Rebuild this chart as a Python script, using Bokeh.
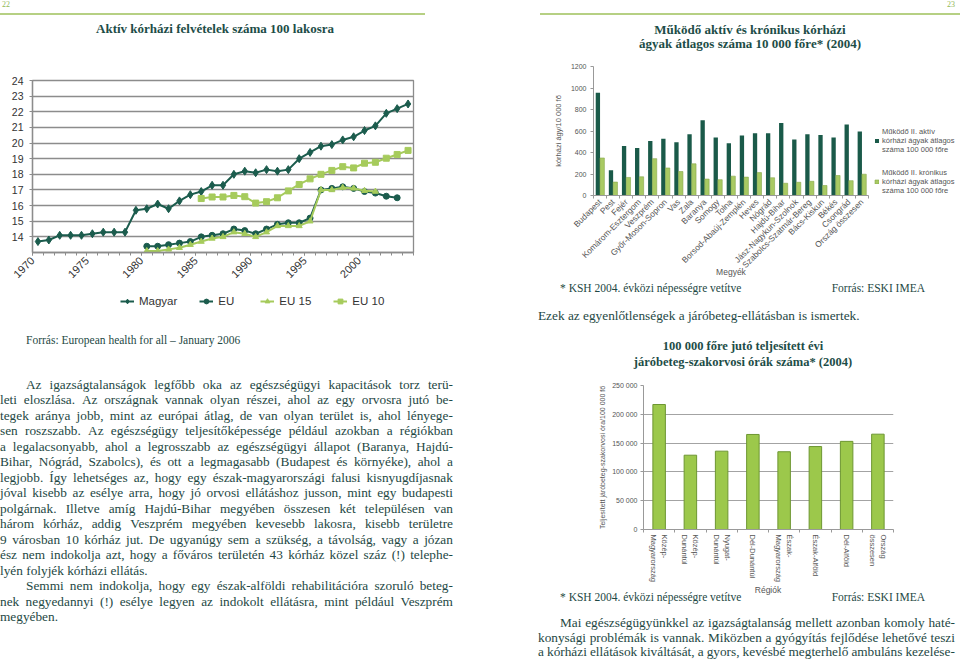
import math
from bokeh.plotting import figure
from bokeh.models import Div, Legend, LegendItem, FixedTicker, Range1d, ColumnDataSource
from bokeh.layouts import row, column
from bokeh.transform import dodge
from bokeh.embed import file_html
from bokeh.resources import INLINE

# ---------------- data ----------------
years = list(range(1970, 2005))
magyar = [13.7, 13.8, 14.1, 14.1, 14.1, 14.2, 14.3, 14.3, 14.3, 15.7, 15.8, 16.1, 15.8, 16.3,
          16.7, 16.9, 17.3, 17.3, 18.0, 18.2, 18.1, 18.3, 18.2, 18.3, 19.0, 19.4, 19.8, 19.9,
          20.2, 20.4, 20.8, 21.1, 21.9, 22.2, 22.5]
eu_years = list(range(1980, 2004))
eu = [13.4, 13.4, 13.5, 13.6, 13.7, 14.0, 14.1, 14.2, 14.5, 14.4, 14.2, 14.5, 14.8, 14.9,
      14.9, 15.2, 17.0, 17.1, 17.2, 17.1, 16.9, 16.8, 16.6, 16.5]
eu15_years = list(range(1980, 2002))
eu15 = [13.1, 13.1, 13.2, 13.3, 13.5, 13.7, 13.9, 14.0, 14.3, 14.2, 14.0, 14.3, 14.7, 14.7,
        14.7, 15.0, 17.0, 17.0, 17.15, 17.1, 16.95, 16.9]
eu10_years = list(range(1985, 2005))
eu10 = [16.45, 16.55, 16.55, 16.65, 16.57, 16.16, 16.25, 16.5, 16.94, 17.35, 17.71, 18.0,
        18.25, 18.49, 18.41, 18.71, 18.77, 19.03, 19.27, 19.53]
year_labels = ["1970", "1975", "1980", "1985", "1990", "1995", "2000"]
felvetel_min, felvetel_max = 13, 24
felvetel_ticks = list(range(14, 25))
series_names = ["Magyar", "EU", "EU 15", "EU 10"]

megyek = ["Budapest", "Pest", "Fejér", "Komárom-Esztergom", "Veszprém", "Győr-Moson-Sopron",
          "Vas", "Zala", "Baranya", "Somogy", "Tolna", "Borsod-Abaúj-Zemplén", "Heves",
          "Nógrád", "Hajdú-Bihar", "Jász-Nagykun-Szolnok", "Szabolcs-Szatmár-Bereg",
          "Bács-Kiskun", "Békés", "Csongrád", "Ország összesen"]
aktiv = [955, 235, 460, 442, 508, 529, 496, 570, 700, 540, 487, 558, 578, 580, 675, 522, 570,
         563, 540, 660, 595]
kronikus = [349, 125, 168, 174, 343, 256, 223, 295, 153, 147, 180, 171, 213, 165, 114, 123,
            132, 93, 186, 138, 198]
agy_ticks = [0, 200, 400, 600, 800, 1000, 1200]
agy_series = ["Működő II. aktív\nkórházi ágyak átlagos\nszáma 100 000 főre",
              "Működő II. krónikus\nkórházi ágyak átlagos\nszáma 100 000 főre"]

regiok = ["Közép-\nMagyarország", "Közép-\nDunántúl", "Nyugat-\nDunántúl", "Dél-Dunántúl",
          "Észak-\nMagyarország", "Észak-Alföld", "Dél-Alföld", "Ország\nösszesen"]
orak = [217000, 129000, 136000, 165000, 135000, 144000, 153000, 165500]
ora_ticks = [0, 50000, 100000, 150000, 200000, 250000]
ora_labels = ["0", "50 000", "100 000", "150 000", "200 000", "250 000"]

# ---------------- styles ----------------
DARK = "#1b5c4d"
LIGHT = "#a6cb5c"
BAR_DARK = "#1a5a49"
BAR_LIGHT = "#a9ca63"
GRAY = "#8c8c8c"
TEXT = "#1e4844"
TITLE = "#1d4d47"
SERIF = "'Liberation Serif', 'DejaVu Serif', serif"
SANS = "Liberation Sans"


def no_align(f):
    try:
        f.frame_align = False
    except Exception:
        pass
    return f


def base_fig(w, h, xr, yr, left, right, top, bottom, free=True):
    f = figure(width=w, height=h, x_range=xr, y_range=yr, output_backend="svg",
               toolbar_location=None, title=None, min_border_left=left,
               min_border_right=right, min_border_top=top, min_border_bottom=bottom,
               margin=0)
    if free:
        no_align(f)
    for ax in (f.xaxis[0], f.yaxis[0]):
        ax.major_label_text_font = SANS
        ax.axis_label_text_font = SANS
        ax.axis_label_text_font_style = "normal"
        ax.major_tick_in = 0
        ax.minor_tick_in = 0
    return f


def legend_fig(w, h):
    f = figure(width=w, height=h, output_backend="svg", toolbar_location=None, title=None,
               x_axis_type=None, y_axis_type=None, min_border=0, margin=0,
               x_range=Range1d(-2, -1), y_range=Range1d(-2, -1))
    f.grid.visible = False
    f.outline_line_color = None
    return f


# ---------------- left line chart ----------------
lc = base_fig(480, 216, Range1d(years[0] - 0.5, years[-1] + 0.5),
              Range1d(felvetel_min, felvetel_max), 32, 67, 10, 34, free=False)
lc.xgrid.visible = False
lc.ygrid.grid_line_color = GRAY
lc.ygrid.grid_line_width = 1.3
lc.outline_line_color = GRAY
lc.outline_line_width = 1.3
ya = lc.yaxis[0]
ya.ticker = FixedTicker(ticks=felvetel_ticks)
ya.major_label_text_font_size = "10.5px"
ya.major_label_text_color = "#333333"
ya.axis_line_color = GRAY
ya.axis_line_width = 1.3
ya.major_tick_line_color = GRAY
ya.major_tick_out = 3
ya.minor_tick_out = 0
ya.major_label_standoff = 6
xa = lc.xaxis[0]
major = [years[0] - 0.5 + 5 * i for i in range(len(year_labels))]
xa.ticker = FixedTicker(ticks=major, minor_ticks=[years[0] - 0.5 + i for i in range(len(years) + 1)])
xa.major_label_overrides = dict(zip(major, year_labels))
xa.major_label_orientation = math.pi / 4
xa.major_label_text_font_size = "11px"
xa.major_label_text_color = "#333333"
xa.axis_line_color = GRAY
xa.axis_line_width = 1.3
xa.major_tick_line_color = GRAY
xa.minor_tick_line_color = GRAY
xa.major_tick_out = 3
xa.minor_tick_out = 3
xa.major_label_standoff = 3

series = [(years, magyar, DARK, "diamond", 8), (eu_years, eu, DARK, "circle", 6),
          (eu15_years, eu15, LIGHT, "triangle", 6), (eu10_years, eu10, LIGHT, "square", 6)]
for xs, ys, col, mk, sz in series:
    lc.line(xs, ys, line_color=col, line_width=2)
    lc.scatter(xs, ys, marker=mk, size=sz, fill_color=col, line_color=col)

# legend strip under the line chart (same series; its ranges keep the marks out of view)
lg = legend_fig(480, 34)
items = []
for name, (xs, ys, col, mk, sz) in zip(series_names, series):
    rl = lg.line(xs, ys, line_color=col, line_width=2)
    rs = lg.scatter(xs, ys, marker=mk, size=sz, fill_color=col, line_color=col)
    items.append(LegendItem(label=name, renderers=[rl, rs]))
lg.add_layout(Legend(items=items, orientation="horizontal", location=(88, 13), glyph_width=14,
                     glyph_height=12, label_standoff=5, spacing=22, padding=0, margin=0,
                     border_line_color=None, background_fill_alpha=0, label_text_font=SANS,
                     label_text_font_size="11.5px", label_text_color="#333333"))

# ---------------- right chart 1 ----------------
src1 = ColumnDataSource(dict(x=list(range(len(megyek))), aktiv=aktiv, kronikus=kronikus))
c1 = base_fig(390, 227, Range1d(-0.5, len(megyek) - 0.5), Range1d(0, agy_ticks[-1]), 113, 2, 11, 87)
c1.grid.visible = False
c1.outline_line_color = None
c1.vbar(x=dodge("x", -0.165), top="aktiv", width=0.33, source=src1,
        fill_color=BAR_DARK, line_color=None)
c1.vbar(x=dodge("x", 0.165), top="kronikus", width=0.33, source=src1,
        fill_color=BAR_LIGHT, line_color="#86a84a", line_width=0.6)
x1 = c1.xaxis[0]
x1.ticker = FixedTicker(ticks=src1.data["x"], minor_ticks=[i - 0.5 for i in range(len(megyek) + 1)])
x1.major_label_overrides = dict(zip(src1.data["x"], megyek))
x1.major_label_orientation = math.pi / 4
x1.major_label_text_font_size = "8.4px"
x1.major_label_text_color = "#555555"
x1.major_tick_out = 0
x1.minor_tick_out = 3
x1.major_label_standoff = 2
x1.axis_line_color = "#999999"
x1.minor_tick_line_color = "#999999"
x1.axis_label = "Megyék"
x1.axis_label_text_font_size = "8.5px"
x1.axis_label_text_color = "#555555"
x1.axis_label_standoff = -9
y1 = c1.yaxis[0]
y1.ticker = FixedTicker(ticks=agy_ticks)
y1.major_label_text_font_size = "7px"
y1.major_label_text_color = "#555555"
y1.axis_line_color = "#999999"
y1.major_tick_line_color = "#999999"
y1.major_tick_out = 3
y1.minor_tick_out = 0
y1.major_label_standoff = 4
y1.axis_label = "kórházi ágy/10 000 fő"
y1.axis_label_text_font_size = "7.5px"
y1.axis_label_text_color = "#555555"
y1.axis_label_standoff = 5

lg1 = legend_fig(90, 227)
no_align(lg1)
items1 = []
for name, col, lcol, vals in zip(agy_series, [BAR_DARK, BAR_LIGHT], [None, "#86a84a"], [aktiv, kronikus]):
    rb = lg1.vbar(x=src1.data["x"], top=vals, width=0.3, fill_color=col, line_color=lcol, line_width=0.6)
    items1.append(LegendItem(label=name, renderers=[rb]))
lg1.add_layout(Legend(items=items1, location=(4, 87), glyph_width=5, glyph_height=5,
                      label_standoff=3, spacing=14, padding=0, margin=0, border_line_color=None,
                      background_fill_alpha=0, label_text_font=SANS, label_text_font_size="7.5px",
                      label_text_color="#555555", label_text_line_height=1.45))

# ---------------- right chart 2 ----------------
src2 = ColumnDataSource(dict(x=list(range(len(regiok))), orak=orak))
c2 = base_fig(480, 213, Range1d(-0.5, len(regiok) - 0.5), Range1d(0, ora_ticks[-1]), 163, 67, 13, 55)
c2.xgrid.visible = False
c2.ygrid.grid_line_color = "#a3a3a3"
c2.outline_line_color = None
c2.vbar(x="x", top="orak", width=0.4, source=src2, fill_color="#9cc84b",
        line_color="#6d9632", line_width=1)
x2 = c2.xaxis[0]
x2.ticker = FixedTicker(ticks=src2.data["x"], minor_ticks=[i - 0.5 for i in range(len(regiok) + 1)])
x2.major_label_overrides = dict(zip(src2.data["x"], regiok))
x2.major_label_orientation = "vertical"
x2.major_label_text_font_size = "7.5px"
x2.major_label_text_color = "#555555"
x2.major_tick_out = 0
x2.minor_tick_out = 3
x2.major_label_standoff = 2
x2.axis_line_color = "#999999"
x2.minor_tick_line_color = "#999999"
y2 = c2.yaxis[0]
y2.ticker = FixedTicker(ticks=ora_ticks)
y2.major_label_overrides = dict(zip(ora_ticks, ora_labels))
y2.major_label_text_font_size = "7px"
y2.major_label_text_color = "#555555"
y2.axis_line_color = "#999999"
y2.major_tick_line_color = "#999999"
y2.major_tick_out = 3
y2.minor_tick_out = 0
y2.major_label_standoff = 3
y2.axis_label = "Teljesített járóbeteg-szakorvosi óra/100 000 fő"
y2.axis_label_text_font_size = "7px"
y2.axis_label_text_color = "#555555"
y2.axis_label_standoff = 3

# ---------------- text blocks ----------------
left_par = [
    ("Az igazságtalanságok legfőbb oka az egészségügyi kapacitások torz terü-", True, False),
    ("leti eloszlása. Az országnak vannak olyan részei, ahol az egy orvosra jutó be-", False, False),
    ("tegek aránya jobb, mint az európai átlag, de van olyan terület is, ahol lényege-", False, False),
    ("sen roszszabb. Az egészségügy teljesítőképessége például azokban a régiókban", False, False),
    ("a legalacsonyabb, ahol a legrosszabb az egészségügyi állapot (Baranya, Hajdú-", False, False),
    ("Bihar, Nógrád, Szabolcs), és ott a legmagasabb (Budapest és környéke), ahol a", False, False),
    ("legjobb. Így lehetséges az, hogy egy észak-magyarországi falusi kisnyugdíjasnak", False, False),
    ("jóval kisebb az esélye arra, hogy jó orvosi ellátáshoz jusson, mint egy budapesti", False, False),
    ("polgárnak. Illetve amíg Hajdú-Bihar megyében összesen két településen van", False, False),
    ("három kórház, addig Veszprém megyében kevesebb lakosra, kisebb területre", False, False),
    ("9 városban 10 kórház jut. De ugyanúgy sem a szükség, a távolság, vagy a józan", False, False),
    ("ész nem indokolja azt, hogy a főváros területén 43 kórház közel száz (!) telephe-", False, False),
    ("lyén folyjék kórházi ellátás.", False, True),
    ("Semmi nem indokolja, hogy egy észak-alföldi rehabilitációra szoruló beteg-", True, False),
    ("nek negyedannyi (!) esélye legyen az indokolt ellátásra, mint például Veszprém", False, False),
    ("megyében.", False, True),
]
right_par = [
    ("Mai egészségügyünkkel az igazságtalanság mellett azonban komoly haté-", True, False),
    ("konysági problémák is vannak. Miközben a gyógyítás fejlődése lehetővé teszi", False, False),
    ("a kórházi ellátások kiváltását, a gyors, kevésbé megterhelő ambuláns kezelése-", False, False),
]


def par_html(lines, indent, lh):
    out = []
    for text, first, last in lines:
        pad = indent if first else 0
        if last:
            out.append(f'<div style="padding-left:{pad}px;white-space:nowrap;height:{lh}px">{text}</div>')
        else:
            spans = "".join(f"<span>{w}</span>" for w in text.split(" "))
            out.append(f'<div style="display:flex;justify-content:space-between;padding-left:{pad}px;'
                       f'white-space:nowrap;height:{lh}px">{spans}</div>')
    return "".join(out)


def box(w, h, inner):
    return (f'<div style="position:relative;width:{w}px;height:{h}px;overflow:hidden;'
            f'font-family:{SERIF};color:{TEXT}">{inner}</div>')


def absdiv(style, text):
    return f'<div style="position:absolute;{style}">{text}</div>'


L_head = Div(width=480, height=70, margin=0, text=box(480, 70,
    absdiv("left:2px;top:1px;font-size:8px;line-height:8px;color:#93b858", "22")
    + absdiv("left:0;top:13px;width:425px;height:2px;background:#b6d083", "")
    + absdiv(f"left:0;top:20px;width:430px;text-align:center;font-size:13px;font-weight:bold;line-height:18px;color:{TITLE}",
             "Aktív kórházi felvételek száma 100 lakosra")))

L_text = Div(width=480, height=343, margin=0, text=box(480, 343,
    absdiv("left:26px;top:12px;font-size:11.5px;line-height:16px", "Forrás: European health for all – January 2006")
    + absdiv("left:0;top:57px;width:453px;font-size:13.3px;line-height:15.47px", par_html(left_par, 26, 15.47))))

R_head = Div(width=480, height=55, margin=0, text=box(480, 55,
    absdiv("right:5px;top:1px;font-size:8px;line-height:8px;color:#93b858", "23")
    + absdiv("left:60px;top:13px;width:420px;height:2px;background:#b6d083", "")
    + absdiv(f"left:70px;top:23px;width:400px;text-align:center;font-size:13px;font-weight:bold;line-height:14px;color:{TITLE}",
             "Működő aktív és krónikus kórházi<br>ágyak átlagos száma 10 000 főre* (2004)")))

R_mid = Div(width=480, height=90, margin=0, text=box(480, 90,
    absdiv("left:80px;top:0;font-size:11.5px;line-height:12px", "* KSH 2004. évközi népességre vetítve")
    + absdiv("right:35px;top:0;font-size:11.5px;line-height:12px", "Forrás: ESKI IMEA")
    + absdiv("left:58px;top:26px;font-size:13.3px;line-height:16px;white-space:nowrap",
             "Ezek az egyenlőtlenségek a járóbeteg-ellátásban is ismertek.")
    + absdiv(f"left:63px;top:56px;width:400px;text-align:center;font-size:12.5px;font-weight:bold;line-height:16px;color:{TITLE}",
             "100 000 főre jutó teljesített évi<br>járóbeteg-szakorvosi órák száma* (2004)")))

R_bottom = Div(width=480, height=78, margin=0, text=box(480, 78,
    absdiv(f"left:238px;top:0;width:100px;text-align:center;font-family:{SANS};font-size:8.5px;line-height:10px;color:#555555", "Régiók")
    + absdiv("left:80px;top:4px;font-size:11.5px;line-height:16px", "* KSH 2004. évközi népességre vetítve")
    + absdiv("right:35px;top:4px;font-size:11.5px;line-height:16px", "Forrás: ESKI IMEA")
    + absdiv("left:58px;top:31px;width:417px;font-size:13.3px;line-height:14.5px", par_html(right_par, 22, 14.5))))

left = column(L_head, lc, lg, L_text, spacing=0)
right = column(column(R_head, row(c1, lg1, spacing=0), R_mid, spacing=0),
               column(c2, R_bottom, spacing=0), spacing=0)
page = row(left, right, spacing=0)

open("out.html", "w", encoding="utf-8").write(file_html(page, INLINE))
